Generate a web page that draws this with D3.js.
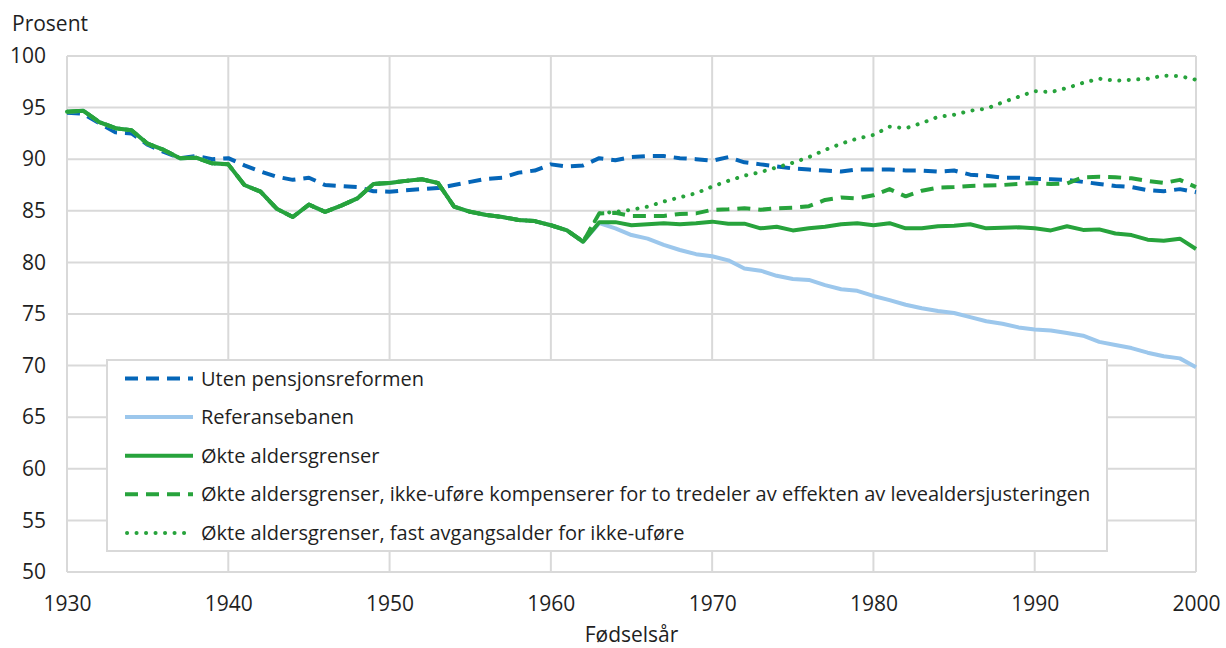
<!DOCTYPE html>
<html>
<head>
<meta charset="utf-8">
<script src="https://cdn.jsdelivr.net/npm/d3@7"></script>
<style>
  html, body { margin: 0; padding: 0; background: #fff; }
  svg { display: block; font-family: "Open Sans", "Noto Sans", sans-serif; }
</style>
</head>
<body>
<svg id="chart" width="1226" height="648"></svg>
<script>
// Fødselsår 1930–2000
const years = d3.range(1930, 2001);

// Uten pensjonsreformen
const utenReform = [
  94.5, 94.4, 93.5, 92.6, 92.5, 91.4, 90.7, 90.1, 90.3, 90.0,
  90.1, 89.4, 88.8, 88.3, 88.0, 88.2, 87.5, 87.4, 87.3, 86.9,
  86.85, 87.0, 87.1, 87.2, 87.5, 87.8, 88.1, 88.2, 88.7, 88.9,
  89.5, 89.3, 89.4, 90.1, 89.9, 90.2, 90.3, 90.3, 90.1, 90.0,
  89.85, 90.2, 89.7, 89.5, 89.3, 89.1, 89.0, 88.9, 88.8, 89.0,
  89.0, 89.0, 88.9, 88.9, 88.8, 88.9, 88.5, 88.4, 88.2, 88.2,
  88.1, 88.05, 88.0, 87.8, 87.6, 87.4, 87.3, 87.0, 86.9, 87.1,
  86.8
];

// Økte aldersgrenser (til og med 1962 felles for alle banene med reform)
const okteAldersgrenser = [
  94.6, 94.7, 93.6, 93.0, 92.8, 91.5, 90.9, 90.1, 90.15, 89.6,
  89.5, 87.5, 86.85, 85.2, 84.4, 85.6, 84.9, 85.5, 86.2, 87.6,
  87.7, 87.9, 88.05, 87.7, 85.4, 84.9, 84.6, 84.4, 84.1, 84.0,
  83.6, 83.1, 82.0, 83.9, 83.9, 83.6, 83.7, 83.8, 83.7, 83.8,
  83.95, 83.75, 83.75, 83.3, 83.45, 83.1, 83.3, 83.45, 83.7, 83.8,
  83.6, 83.8, 83.3, 83.3, 83.5, 83.55, 83.7, 83.3, 83.35, 83.4,
  83.3, 83.1, 83.5, 83.15, 83.2, 82.8, 82.65, 82.2, 82.1, 82.3,
  81.3
];

// Referansebanen
const referansebanen = [
  94.6, 94.7, 93.6, 93.0, 92.8, 91.5, 90.9, 90.1, 90.15, 89.6,
  89.5, 87.5, 86.85, 85.2, 84.4, 85.6, 84.9, 85.5, 86.2, 87.6,
  87.7, 87.9, 88.05, 87.7, 85.4, 84.9, 84.6, 84.4, 84.1, 84.0,
  83.6, 83.1, 82.0, 83.8, 83.3, 82.65, 82.3, 81.7, 81.2, 80.8,
  80.6, 80.2, 79.4, 79.2, 78.7, 78.4, 78.3, 77.8, 77.4, 77.25,
  76.75, 76.35, 75.9, 75.55, 75.3, 75.1, 74.7, 74.3, 74.05, 73.7,
  73.5, 73.4, 73.15, 72.9, 72.3, 72.0, 71.7, 71.25, 70.9, 70.7,
  69.85
];

// Økte aldersgrenser, ikke-uføre kompenserer for to tredeler av effekten av levealdersjusteringen
const kompenserer = [
  94.6, 94.7, 93.6, 93.0, 92.8, 91.5, 90.9, 90.1, 90.15, 89.6,
  89.5, 87.5, 86.85, 85.2, 84.4, 85.6, 84.9, 85.5, 86.2, 87.6,
  87.7, 87.9, 88.05, 87.7, 85.4, 84.9, 84.6, 84.4, 84.1, 84.0,
  83.6, 83.1, 82.0, 84.75, 84.8, 84.5, 84.5, 84.5, 84.7, 84.75,
  85.1, 85.15, 85.25, 85.1, 85.25, 85.3, 85.45, 86.05, 86.3, 86.2,
  86.5, 87.1, 86.4, 86.95, 87.25, 87.3, 87.4, 87.45, 87.5, 87.6,
  87.7, 87.6, 87.65, 88.25, 88.3, 88.25, 88.15, 87.9, 87.7, 88.0,
  87.3
];

// Økte aldersgrenser, fast avgangsalder for ikke-uføre
const fastAvgangsalder = [
  94.6, 94.7, 93.6, 93.0, 92.8, 91.5, 90.9, 90.1, 90.15, 89.6,
  89.5, 87.5, 86.85, 85.2, 84.4, 85.6, 84.9, 85.5, 86.2, 87.6,
  87.7, 87.9, 88.05, 87.7, 85.4, 84.9, 84.6, 84.4, 84.1, 84.0,
  83.6, 83.1, 82.0, 84.75, 84.9, 85.1, 85.4, 85.9, 86.3, 86.7,
  87.35, 87.9, 88.4, 88.75, 89.2, 89.65, 90.2, 90.9, 91.5, 92.0,
  92.35, 93.15, 93.0, 93.5, 94.1, 94.3, 94.7, 94.9, 95.5, 96.05,
  96.6, 96.5, 96.9, 97.4, 97.8, 97.6, 97.7, 97.8, 98.1, 98.05,
  97.7
];

const xTicks = [1930, 1940, 1950, 1960, 1970, 1980, 1990, 2000];
const yTicks = [50, 55, 60, 65, 70, 75, 80, 85, 90, 95, 100];

const seriesNames = [
  "Uten pensjonsreformen",
  "Referansebanen",
  "Økte aldersgrenser",
  "Økte aldersgrenser, ikke-uføre kompenserer for to tredeler av effekten av levealdersjusteringen",
  "Økte aldersgrenser, fast avgangsalder for ikke-uføre"
];

const BLUE = "#0566B8";
const LIGHT = "#9CC7EC";
const GREEN = "#27A33C";
const GRID = "#d9d9d9";
const TEXT = "#1f1f1f";
const AXIS_FONT = 21;
const LEGEND_FONT = 20;

const series = [
  { name: seriesNames[0], values: utenReform,        color: BLUE,  dash: "13,8",    cap: "butt" },
  { name: seriesNames[1], values: referansebanen,    color: LIGHT, dash: null,      cap: "butt" },
  { name: seriesNames[2], values: okteAldersgrenser, color: GREEN, dash: null,      cap: "butt" },
  { name: seriesNames[3], values: kompenserer,       color: GREEN, dash: "13,8",    cap: "butt" },
  { name: seriesNames[4], values: fastAvgangsalder,  color: GREEN, dash: "0.1,9.4", cap: "round" }
];

const svg = d3.select("#chart");
const margin = { left: 67, right: 30, top: 56, bottom: 76 };
const W = 1226, H = 648;

const x = d3.scaleLinear().domain([1930, 2000]).range([margin.left, W - margin.right]);
const y = d3.scaleLinear().domain([50, 100]).range([H - margin.bottom, margin.top]);

// Rutenett
const grid = svg.append("g");
grid.selectAll("line.h").data(yTicks).join("line")
  .attr("x1", x(1930)).attr("x2", x(2000))
  .attr("y1", d => y(d)).attr("y2", d => y(d))
  .attr("stroke", GRID).attr("stroke-width", 2);
grid.selectAll("line.v").data(xTicks).join("line")
  .attr("x1", d => x(d)).attr("x2", d => x(d))
  .attr("y1", y(50)).attr("y2", y(100))
  .attr("stroke", GRID).attr("stroke-width", 2);

// Akser
const yAxis = svg.append("g")
  .attr("transform", `translate(${margin.left},0)`)
  .call(d3.axisLeft(y).tickValues(yTicks).tickSize(0).tickPadding(21));
yAxis.select(".domain").remove();
yAxis.selectAll("text").attr("font-size", AXIS_FONT).attr("fill", TEXT)
  .attr("font-family", "'Open Sans', sans-serif");

const xAxis = svg.append("g")
  .attr("transform", `translate(0,${y(50)})`)
  .call(d3.axisBottom(x).tickValues(xTicks).tickFormat(d3.format("d")).tickSize(0).tickPadding(24));
xAxis.select(".domain").remove();
xAxis.selectAll("text").attr("font-size", AXIS_FONT).attr("fill", TEXT)
  .attr("font-family", "'Open Sans', sans-serif");

svg.append("text").attr("x", 12).attr("y", 31)
  .attr("font-size", AXIS_FONT).attr("fill", TEXT).text("Prosent");
svg.append("text").attr("x", x(1965)).attr("y", 642)
  .attr("text-anchor", "middle").attr("font-size", AXIS_FONT).attr("fill", TEXT).text("Fødselsår");

// Linjer
const line = d3.line()
  .x((d, i) => x(years[i]))
  .y(d => y(d));

svg.append("g").selectAll("path").data(series).join("path")
  .attr("d", d => line(d.values))
  .attr("fill", "none")
  .attr("stroke", d => d.color)
  .attr("stroke-width", 4)
  .attr("stroke-dasharray", d => d.dash)
  .attr("stroke-linecap", d => d.cap)
  .attr("stroke-linejoin", "round");

// Tegnforklaring
const legend = svg.append("g");
legend.append("rect")
  .attr("x", 107).attr("y", 360).attr("width", 1000).attr("height", 191)
  .attr("fill", "#fff").attr("stroke", GRID).attr("stroke-width", 2);

const rows = legend.selectAll("g.row").data(series).join("g")
  .attr("transform", (d, i) => `translate(0,${378.5 + i * 38.6})`);
rows.append("line")
  .attr("x1", d => d.cap === "round" ? 127 : 125).attr("x2", 193)
  .attr("y1", 0).attr("y2", 0)
  .attr("stroke", d => d.color).attr("stroke-width", 4)
  .attr("stroke-dasharray", d => d.dash)
  .attr("stroke-linecap", d => d.cap);
rows.append("text")
  .attr("x", 201).attr("y", 0).attr("dy", "0.35em")
  .attr("font-size", LEGEND_FONT).attr("fill", TEXT)
  .text(d => d.name);
</script>
</body>
</html>
